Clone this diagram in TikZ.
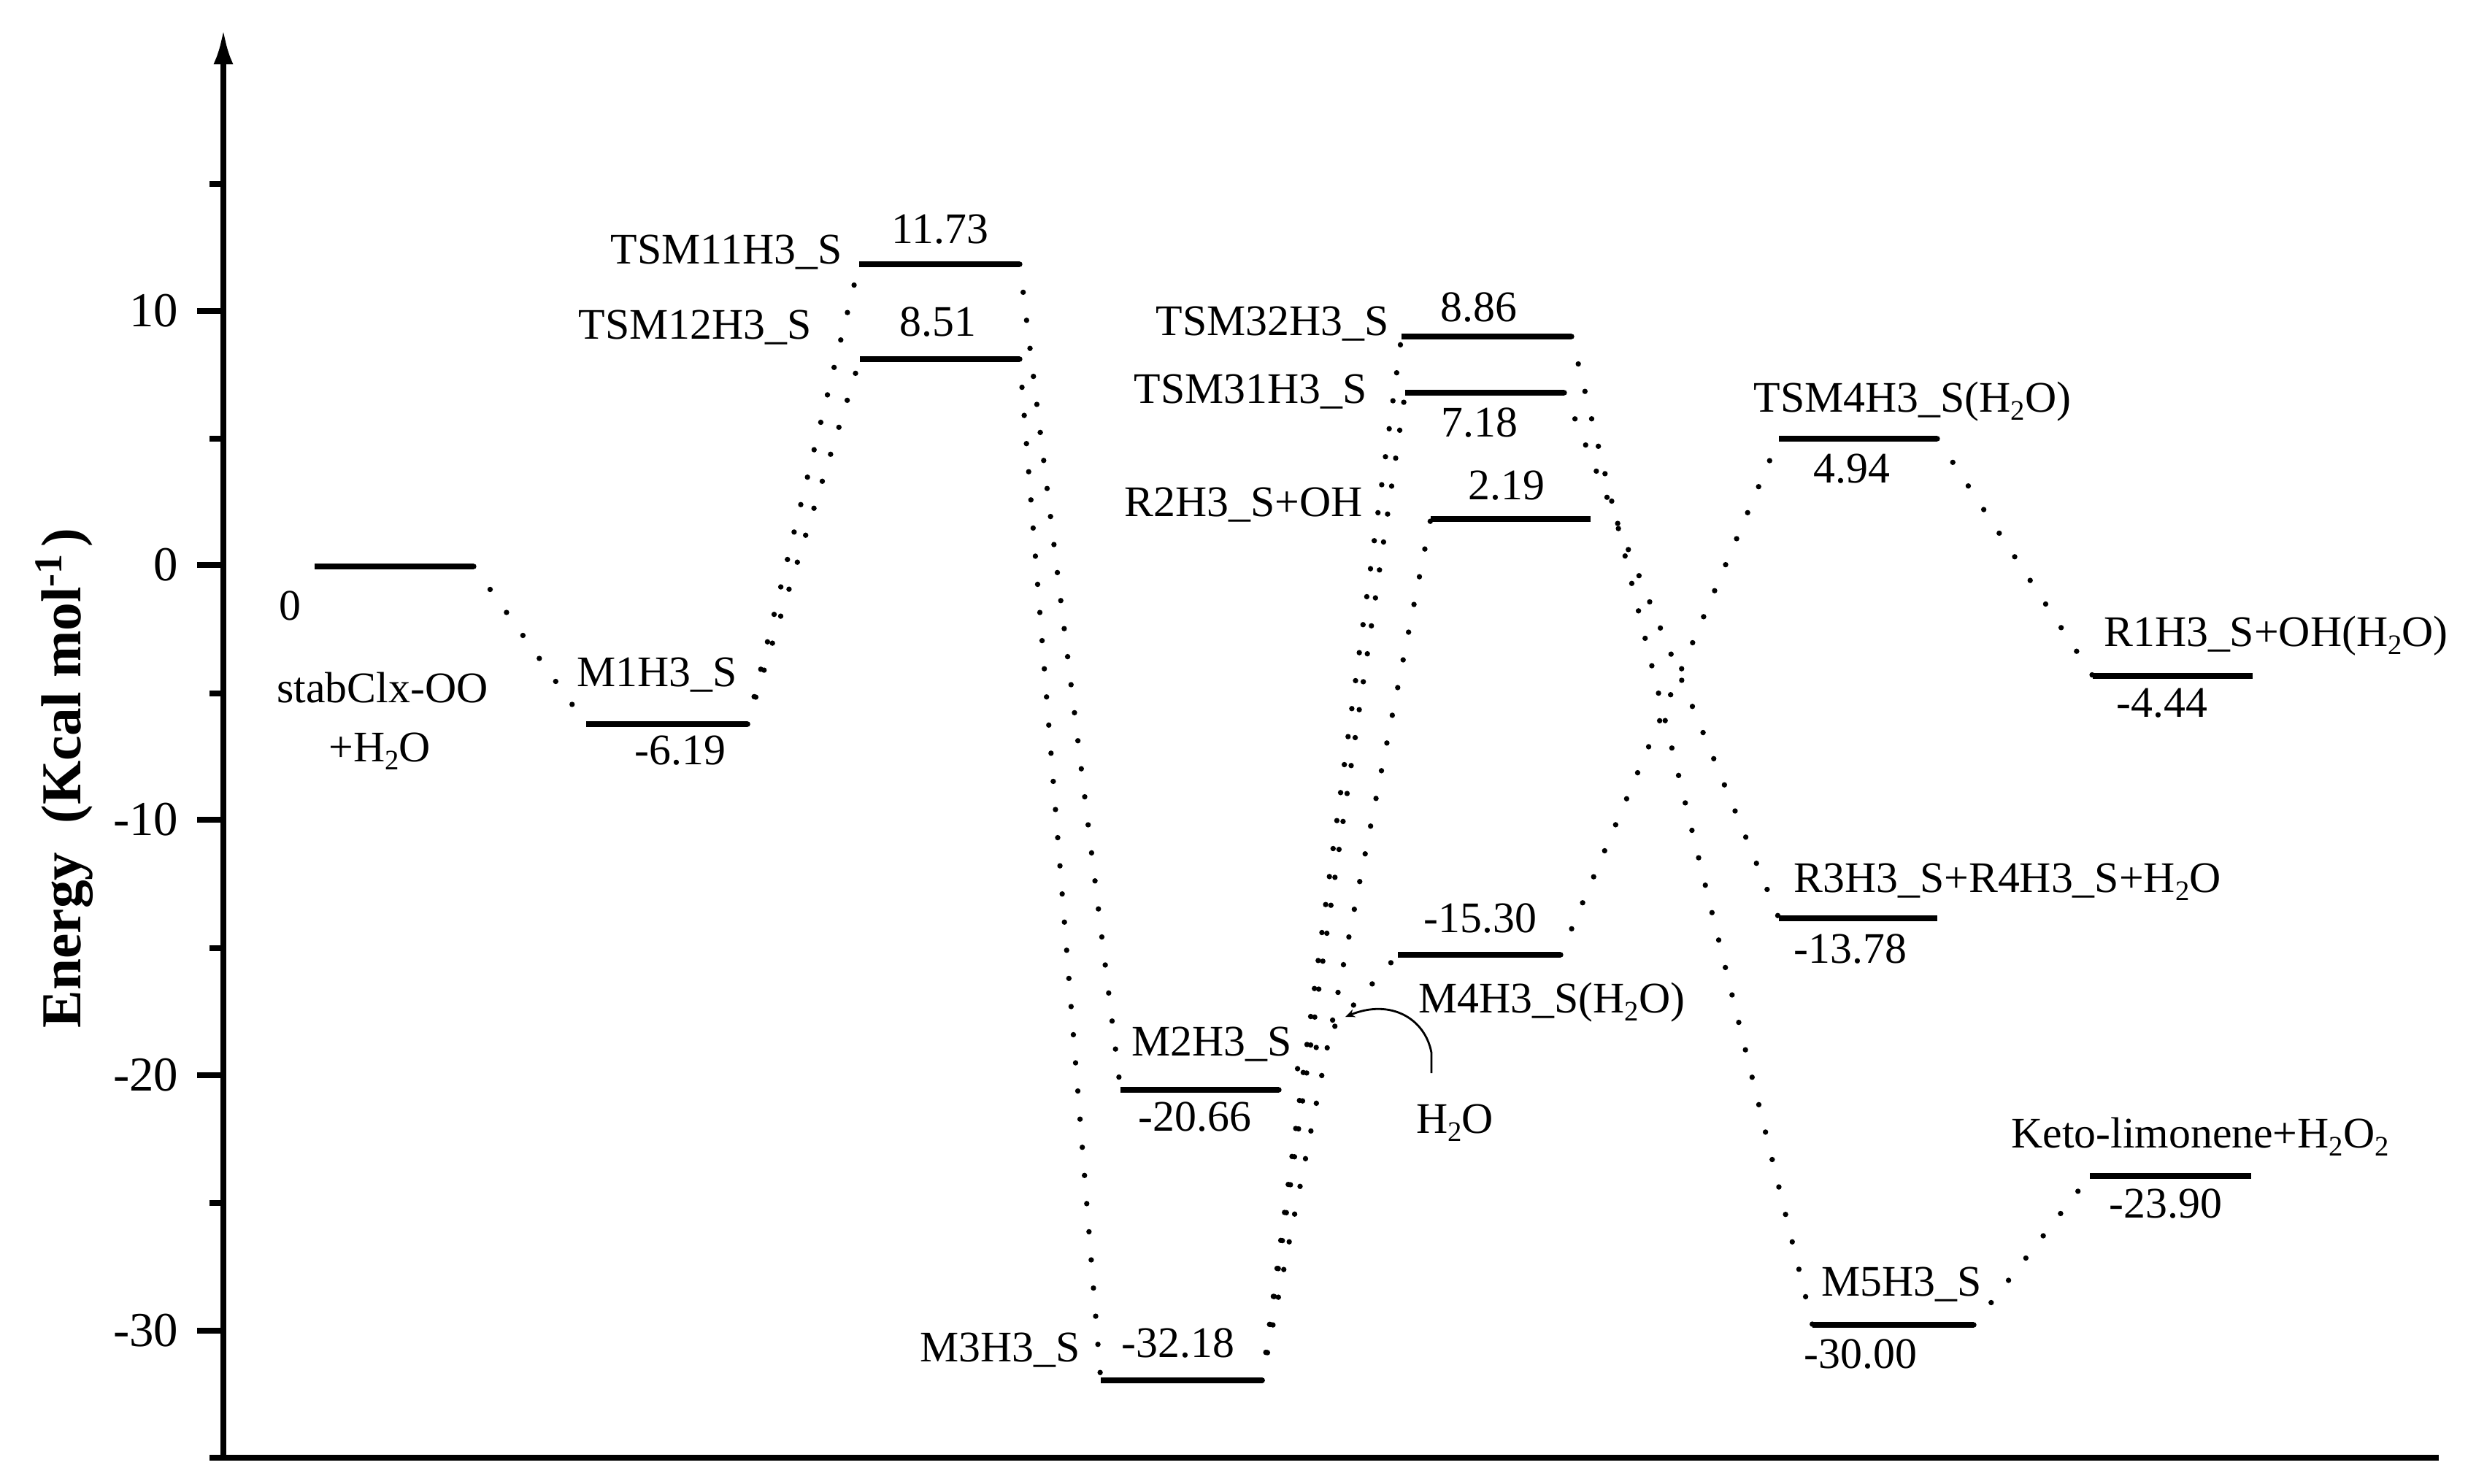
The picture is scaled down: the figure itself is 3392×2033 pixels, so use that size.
\documentclass[tikz,border=0pt]{standalone}
\usepackage{fontspec}
\setmainfont{Liberation Serif}
\usetikzlibrary{arrows.meta,positioning}
\newcommand{\lowsub}[1]{\raisebox{-0.42ex}{\fontsize{11}{11}\selectfont #1}}

\begin{document}
\begin{tikzpicture}[
  x=0.01cm, y=-0.01cm,
  lvl/.style={line width=2.5pt},
  conn/.style={line width=2.1pt, line cap=round, dash pattern=on 0pt off 11pt},
  axisline/.style={line width=2pt},
  lab/.style={font=\fontsize{17}{20}\selectfont, inner sep=0pt, anchor=base},
  ticklab/.style={font=\fontsize{19}{22}\selectfont, inner sep=0pt, anchor=east}
]
  \useasboundingbox (0,0) rectangle (3392,2033);

  % axes
  \draw[axisline] (306,1997) -- (3341,1997);
  \draw[axisline, -{Latex[length=0.47cm, width=0.27cm]}] (306,1997) -- (306,41);
  \draw[axisline] (270,426) -- (306,426) (270,774) -- (306,774)
    (270,1123) -- (306,1123) (270,1473) -- (306,1473) (270,1823) -- (306,1823);
  \draw[axisline] (287,252) -- (306,252) (287,601) -- (306,601)
    (287,950) -- (306,950) (287,1299) -- (306,1299) (287,1648) -- (306,1648)
    (287,1997) -- (306,1997);
  \node[ticklab] (t10) at (245,426) {10};
  \node[ticklab] (t0) at (245,774) {0};
  \node[ticklab] (tm10) at (245,1123) {-10};
  \node[ticklab] (tm20) at (245,1473) {-20};
  \node[ticklab] (tm30) at (245,1823) {-30};
  \node[font=\fontsize{22}{26}\selectfont\bfseries, rotate=90, inner sep=0pt]
    (ytitle) at (88,1066) {Energy\hspace{0.5em}(Kcal mol\textsuperscript{-1}\hspace{0.1em})};

  % levels
  \draw[lvl] (431,776) coordinate (r0l) -- (649,776) coordinate (r0r);
  \draw[lvl] (803,992) coordinate (m1l) -- (1024,992) coordinate (m1r);
  \draw[lvl] (1177,362) coordinate (ts11l) -- (1397,362) coordinate (ts11r);
  \draw[lvl] (1178,492) coordinate (ts12l) -- (1397,492) coordinate (ts12r);
  \draw[lvl] (1535,1493) coordinate (m2l) -- (1752,1493) coordinate (m2r);
  \draw[lvl] (1508,1891) coordinate (m3l) -- (1729,1891) coordinate (m3r);
  \draw[lvl] (1920,461) coordinate (ts32l) -- (2153,461) coordinate (ts32r);
  \draw[lvl] (1925,538) coordinate (ts31l) -- (2143,538) coordinate (ts31r);
  \draw[lvl] (1960,711) coordinate (r2l) -- (2179,711) coordinate (r2r);
  \draw[lvl] (1915,1308) coordinate (m4l) -- (2138,1308) coordinate (m4r);
  \draw[lvl] (2437,601) coordinate (ts4l) -- (2654,601) coordinate (ts4r);
  \draw[lvl] (2867,926) coordinate (r1l) -- (3086,926) coordinate (r1r);
  \draw[lvl] (2437,1258) coordinate (r3l) -- (2654,1258) coordinate (r3r);
  \draw[lvl] (2863,1611) coordinate (ketol) -- (3084,1611) coordinate (ketor);
  \draw[lvl] (2483,1815) coordinate (m5l) -- (2704,1815) coordinate (m5r);

  % dotted paths
  \draw[conn] (r0r) -- (m1l);
  \draw[conn] (m1r) -- (ts11l);
  \draw[conn] (m1r) -- (ts12l);
  \draw[conn] (ts11r) -- (m2l);
  \draw[conn] (ts12r) -- (m3l);
  \draw[conn] (m3r) -- (ts32l);
  \draw[conn] (m3r) -- (ts31l);
  \draw[conn] (m3r) -- (r2l);
  \draw[conn] (m2r) -- (m4l);
  \draw[conn] (m4r) -- (ts4l);
  \draw[conn] (ts4r) -- (r1l);
  \draw[conn] (ts31r) -- (r3l);
  \draw[conn] (ts32r) -- (m5l);
  \draw[conn] (m5r) -- (ketol);

  % water joining M2
  \coordinate (h2oin) at (1961,1470);
  \coordinate (h2otip) at (1843,1393);
  \draw[line width=0.8pt, -{Stealth[length=0.13cm, width=0.11cm]}]
    (h2oin) -- (1961,1442) .. controls (1952,1395) and (1905,1368) .. (h2otip);

  % labels
  \node[lab] (lr0v) at (397,849) {0};
  \node[lab] (lr0a) at (524,962) {stabClx-OO};
  \node[lab] (lr0b) at (520,1043) {+H\lowsub{2}O};
  \node[lab] (lm1) at (900,940) {M1H3\_S};
  \node[lab] (lm1v) at (932,1047) {-6.19};
  \node[lab] (lts11) at (995,361) {TSM11H3\_S};
  \node[lab] (lts11v) at (1288,333) {11.73};
  \node[lab] (lts12) at (952,464) {TSM12H3\_S};
  \node[lab] (lts12v) at (1285,460) {8.51};
  \node[lab] (lts32) at (1743,459) {TSM32H3\_S};
  \node[lab] (lts32v) at (2026,440) {8.86};
  \node[lab] (lts31) at (1713,552) {TSM31H3\_S};
  \node[lab] (lts31v) at (2027,598) {7.18};
  \node[lab] (lr2) at (1704,707) {R2H3\_S+OH};
  \node[lab] (lr2v) at (2064,684) {2.19};
  \node[lab] (lm2) at (1660,1446) {M2H3\_S};
  \node[lab] (lm2v) at (1637,1549) {-20.66};
  \node[lab] (lm3) at (1370,1865) {M3H3\_S};
  \node[lab] (lm3v) at (1614,1859) {-32.18};
  \node[lab] (lm4v) at (2028,1277) {-15.30};
  \node[lab] (lm4) at (2126,1387) {M4H3\_S(H\lowsub{2}O)};
  \node[lab] (lh2o) at (1993,1552) {H\lowsub{2}O};
  \node[lab] (lts4) at (2620,564) {TSM4H3\_S(H\lowsub{2}O)};
  \node[lab] (lts4v) at (2537,661) {4.94};
  \node[lab] (lr1) at (3118,885) {R1H3\_S+OH(H\lowsub{2}O)};
  \node[lab] (lr1v) at (2962,982) {-4.44};
  \node[lab] (lr3) at (2750,1222) {R3H3\_S+R4H3\_S+H\lowsub{2}O};
  \node[lab] (lr3v) at (2535,1319) {-13.78};
  \node[lab] (lketo) at (3014,1572) {Keto-limonene+H\lowsub{2}O\lowsub{2}};
  \node[lab] (lketov) at (2967,1668) {-23.90};
  \node[lab] (lm5) at (2605,1775) {M5H3\_S};
  \node[lab] (lm5v) at (2549,1874) {-30.00};
\end{tikzpicture}
\end{document}
